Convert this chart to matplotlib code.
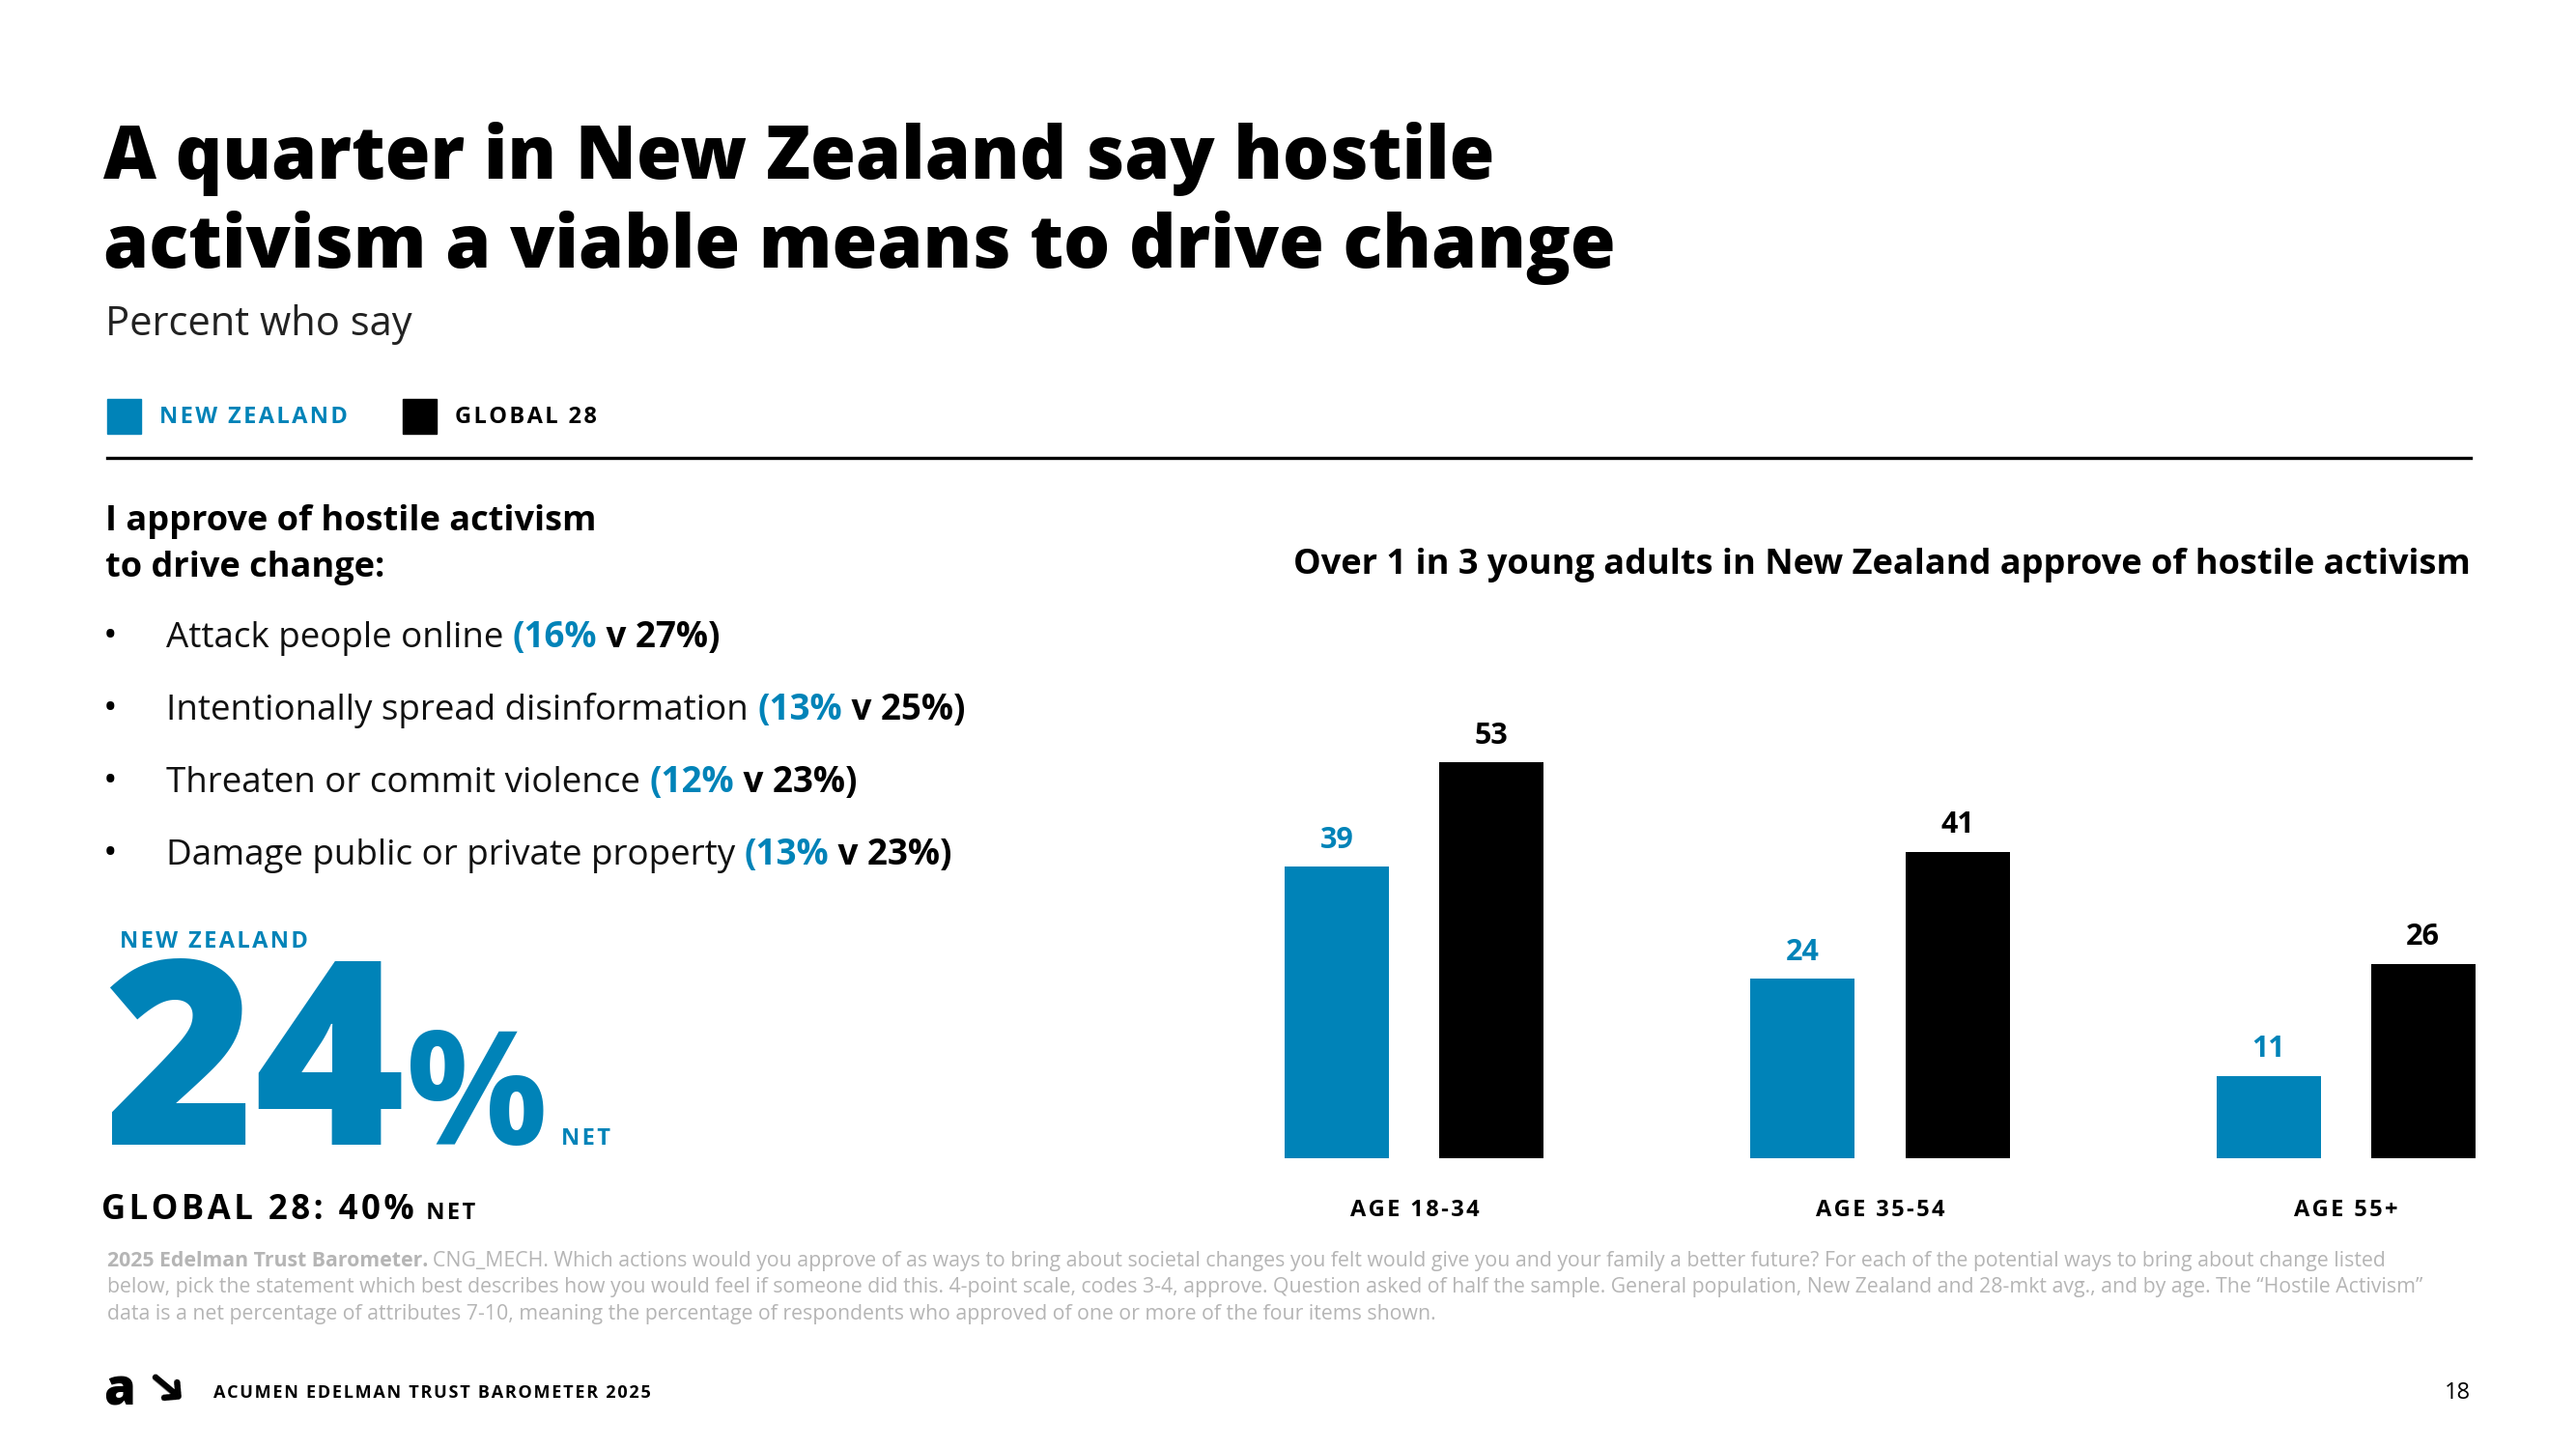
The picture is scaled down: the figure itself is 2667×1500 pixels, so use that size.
import matplotlib
matplotlib.use('Agg')
import matplotlib.pyplot as plt
from matplotlib.patches import Rectangle
from matplotlib.lines import Line2D

# layout grid: the slide drawn at 1568 x 882 units, saved at 2667 x 1500 px
W, H = 1568, 882
BLUE = '#0083B8'
GREY = '#B5B5B5'
FONT = ['Open Sans', 'DejaVu Sans']

ages = ['AGE 18-34', 'AGE 35-54', 'AGE 55+']
nz_by_age = [39, 24, 11]
global_by_age = [53, 41, 26]

items = ['Attack people online', 'Intentionally spread disinformation',
         'Threaten or commit violence', 'Damage public or private property']
nz_items = [16, 13, 12, 13]
global_items = [27, 25, 23, 23]

nz_net = 24
global_net = 40

footnote = [
    'CNG_MECH. Which actions would you approve of as ways to bring about societal changes you felt would give you '
    'and your family a better future? For each of the potential ways to bring about change listed',
    'below, pick the statement which best describes how you would feel if someone did this. 4-point scale, codes 3-4, '
    'approve. Question asked of half the sample. General population, New Zealand and 28-mkt avg., and by age. '
    'The \u201cHostile Activism\u201d',
    'data is a net percentage of attributes 7-10, meaning the percentage of respondents who approved of one or more '
    'of the four items shown.',
]

plt.rcParams['font.family'] = FONT


def fx(x):
    return x / W


def fy(y):
    return 1 - y / H


def spaced(s):
    # poor man's letter spacing
    return '\u200a'.join(s)


fig = plt.figure(figsize=(26.67, 15), dpi=100)
renderer = fig.canvas.get_renderer()


def text_run(x, y, parts, **kw):
    # draw pieces of text one after another on a baseline
    for s, props in parts:
        t = fig.text(fx(x), fy(y), s, va='baseline', **kw, **props)
        bb = t.get_window_extent(renderer=renderer)
        x += bb.width * W / fig.bbox.width
    return x


# title block
fig.text(fx(63), fy(109), 'A quarter in New Zealand say hostile', fontsize=54.5, weight='heavy', va='baseline')
fig.text(fx(63), fy(163), 'activism a viable means to drive change', fontsize=54.5, weight='heavy', va='baseline')
fig.text(fx(64), fy(204), 'Percent who say', fontsize=30, va='baseline', color='#222222')

# legend
fig.add_artist(Rectangle((fx(65), fy(264)), fx(21), 21 / H, color=BLUE, transform=fig.transFigure))
fig.text(fx(97), fy(254), spaced('NEW ZEALAND'), fontsize=17, weight='bold', color=BLUE, va='center')
fig.add_artist(Rectangle((fx(245), fy(264)), fx(21), 21 / H, color='black', transform=fig.transFigure))
fig.text(fx(277), fy(254), spaced('GLOBAL 28'), fontsize=17, weight='bold', color='black', va='center')
fig.add_artist(Line2D([fx(65), fx(1504)], [fy(279), fy(279)], color='black', lw=2.4,
                      transform=fig.transFigure))

# left panel
fig.text(fx(64), fy(323), 'I approve of hostile activism', fontsize=26, weight='bold', va='baseline')
fig.text(fx(64), fy(351), 'to drive change:', fontsize=26, weight='bold', va='baseline')
for i, (item, nz, gl) in enumerate(zip(items, nz_items, global_items)):
    yb = 394 + 44 * i
    fig.text(fx(63), fy(yb), '\u2022', fontsize=28, va='baseline')
    text_run(101, yb, [(item + ' ', {'color': '#111111'}),
                       ('(%d%%' % nz, {'color': BLUE, 'weight': 'bold'}),
                       (' v %d%%)' % gl, {'weight': 'bold'})], fontsize=26.5)

fig.text(fx(73), fy(577), spaced('NEW ZEALAND'), fontsize=17, weight='bold', color=BLUE, va='baseline')
x_end = text_run(63, 697, [(str(nz_net), {'fontsize': 192, 'weight': 'heavy'}),
                           ('%', {'fontsize': 118, 'weight': 'bold'})], color=BLUE)
fig.text(fx(x_end + 8), fy(697), spaced('NET'), fontsize=17, weight='bold', color=BLUE, va='baseline')
text_run(62, 742, [(spaced('GLOBAL 28: %d%%' % global_net), {'fontsize': 25}),
                   ('  ' + spaced('NET'), {'fontsize': 17})], weight='bold')

# bar chart
ax = fig.add_axes([fx(760), fy(705), fx(1520 - 760), (705 - 380) / H])
pos = list(range(len(ages)))
off, bw = 0.166, 0.224
nz_bars = ax.bar([p - off for p in pos], nz_by_age, bw, color=BLUE)
gl_bars = ax.bar([p + off for p in pos], global_by_age, bw, color='black')
ax.bar_label(nz_bars, padding=9, fontsize=22, weight='bold', color=BLUE)
ax.bar_label(gl_bars, padding=9, fontsize=22, weight='bold', color='black')
ax.set_xlim(-0.356, 2.325)
ax.set_ylim(0, (705 - 380) / 4.547)
ax.set_xticks(pos, [spaced(a) for a in ages])
ax.tick_params(axis='x', length=0, pad=30, labelsize=17)
for lab in ax.get_xticklabels():
    lab.set_fontweight('bold')
ax.set_yticks([])
for side in ax.spines.values():
    side.set_visible(False)
fig.text(fx(1504), fy(349), 'Over 1 in 3 young adults in New Zealand approve of hostile activism',
         fontsize=26, weight='bold', ha='right', va='baseline')

# footnote
text_run(65, 771, [('2025 Edelman Trust Barometer. ', {'weight': 'bold'}),
                   (footnote[0], {})], fontsize=15.3, color=GREY)
fig.text(fx(65), fy(787), footnote[1], fontsize=15.3, color=GREY, va='baseline')
fig.text(fx(65), fy(803), footnote[2], fontsize=15.3, color=GREY, va='baseline')

# footer
fig.text(fx(63), fy(855), 'a', fontsize=38, weight='heavy', va='baseline')
fig.text(fx(100), fy(846), '\u279c', fontsize=38, va='center', ha='center',
         family='DejaVu Sans', rotation=-40)
fig.text(fx(130), fy(848), spaced('ACUMEN EDELMAN TRUST BAROMETER 2025'), fontsize=13, weight='bold',
         va='center')
fig.text(fx(1504), fy(848), '18', fontsize=17, ha='right', va='center')

fig.savefig('out.png', dpi=100, facecolor='white')
